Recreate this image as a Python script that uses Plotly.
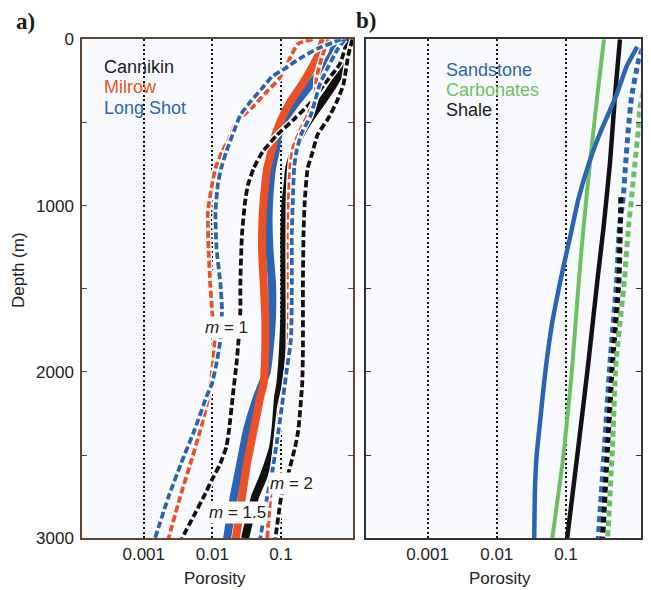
import math
import plotly.graph_objects as go

# ---------------- Panel a: porosity (fraction) vs depth (m) ----------------
# Cannikin (black)
can15_depth = [0, 34, 174, 275, 375, 475, 575, 670, 776, 870, 976, 1177, 1467, 1668, 1868, 2069, 2149, 2349, 2450, 2550, 2650, 2750, 3000]
can15_phi = [1.0, 0.955, 0.77, 0.577, 0.395, 0.267, 0.191, 0.156, 0.132, 0.125, 0.117, 0.112, 0.113, 0.112, 0.107, 0.098, 0.091, 0.083, 0.077, 0.065, 0.053, 0.042, 0.030]
can1_depth = [20, 144, 275, 375, 475, 575, 676, 776, 876, 976, 1177, 1467, 1628, 1808, 1948, 2149, 2349, 2450, 2550, 2650, 2750, 2850, 3000]
can1_phi = [0.9, 0.73, 0.42, 0.28, 0.16, 0.088, 0.054, 0.040, 0.033, 0.030, 0.027, 0.0256, 0.0256, 0.0241, 0.0225, 0.0198, 0.0175, 0.016, 0.0131, 0.0098, 0.0075, 0.0056, 0.0036]
can2_depth = [0, 94, 275, 375, 475, 575, 676, 776, 976, 1177, 1467, 1868, 2069, 2350, 2450, 2610, 2730, 3000]
can2_phi = [1.1, 0.96, 0.81, 0.65, 0.49, 0.34, 0.29, 0.245, 0.222, 0.213, 0.209, 0.209, 0.204, 0.179, 0.161, 0.128, 0.103, 0.083]

# Milrow (red)
mil15_depth = [0, 94, 174, 275, 375, 475, 575, 670, 776, 870, 1067, 1267, 1467, 1668, 1868, 2069, 2149, 2349, 2550, 2750, 3000]
mil15_phi = [0.42, 0.349, 0.28, 0.20, 0.137, 0.103, 0.083, 0.073, 0.063, 0.059, 0.054, 0.053, 0.056, 0.059, 0.059, 0.056, 0.050, 0.040, 0.032, 0.027, 0.022]
mil1_depth = [0, 25, 100, 174, 240, 325, 400, 460, 520, 600, 676, 776, 876, 1036, 1267, 1467, 1628, 1808, 1948, 2149, 2349, 2550, 2750, 3000]
mil1_phi = [0.29, 0.18, 0.14, 0.116, 0.093, 0.059, 0.040, 0.028, 0.021, 0.0174, 0.0138, 0.0111, 0.0099, 0.0086, 0.0088, 0.0093, 0.0099, 0.0108, 0.0102, 0.0088, 0.0067, 0.0048, 0.0034, 0.0023]
mil2_depth = [0, 100, 233, 355, 450, 550, 650, 766, 966, 1267, 1868, 2069, 2208, 2410, 2610, 2750, 3000]
mil2_phi = [0.49, 0.40, 0.33, 0.316, 0.25, 0.19, 0.151, 0.137, 0.13, 0.129, 0.129, 0.116, 0.098, 0.086, 0.077, 0.070, 0.063]

# Long Shot (blue)
lon15_depth = [0, 94, 174, 275, 375, 475, 575, 670, 776, 870, 1067, 1267, 1467, 1668, 1868, 2000, 2149, 2349, 2550, 2750, 3000]
lon15_phi = [0.66, 0.55, 0.413, 0.267, 0.171, 0.116, 0.091, 0.084, 0.074, 0.070, 0.066, 0.068, 0.074, 0.074, 0.068, 0.062, 0.045, 0.032, 0.0256, 0.0205, 0.0164]
lon1_depth = [0, 54, 114, 174, 225, 295, 375, 455, 555, 676, 776, 876, 1036, 1257, 1467, 1628, 1808, 1948, 2069, 2149, 2349, 2550, 2750, 3000]
lon1_phi = [0.76, 0.35, 0.19, 0.116, 0.074, 0.053, 0.036, 0.0256, 0.0205, 0.016, 0.0134, 0.012, 0.0111, 0.0115, 0.0131, 0.0138, 0.0131, 0.0115, 0.0099, 0.0082, 0.0055, 0.0035, 0.0023, 0.00146]
lon2_depth = [0, 64, 165, 264, 365, 465, 565, 666, 766, 966, 1166, 1467, 1800, 2006, 2208, 2410, 2610, 2750, 3000]
lon2_phi = [0.86, 0.66, 0.49, 0.373, 0.316, 0.267, 0.20, 0.17, 0.156, 0.149, 0.144, 0.144, 0.14, 0.12, 0.103, 0.088, 0.074, 0.063, 0.050]

# ---------------- Panel b ----------------
sand_depth = [45, 165, 340, 565, 745, 966, 1166, 1366, 1508, 1708, 2008, 2310, 2500, 2710, 3000]
sand_phi = [1.07, 0.75, 0.53, 0.31, 0.215, 0.15, 0.118, 0.092, 0.078, 0.063, 0.050, 0.042, 0.0377, 0.0356, 0.0348]
carb_depth = [0, 345, 745, 1146, 1488, 2008, 2510, 3000]
carb_phi = [0.354, 0.283, 0.222, 0.178, 0.151, 0.121, 0.0914, 0.0634]
shale_depth = [0, 345, 745, 1146, 1447, 1949, 2450, 3000]
shale_phi = [0.603, 0.51, 0.432, 0.346, 0.285, 0.21, 0.151, 0.104]

sandd_depth = [0, 135, 345, 545, 745, 946, 1146, 1447, 1949, 2450, 3000]
sandd_phi = [1.4, 1.11, 0.889, 0.794, 0.729, 0.673, 0.589, 0.541, 0.432, 0.36, 0.293]
carbd_depth = [200, 415, 545, 745, 946, 1146, 1447, 1949, 2450, 3000]
carbd_phi = [1.5, 1.17, 1.11, 0.993, 0.889, 0.794, 0.70, 0.528, 0.47, 0.401]
shaled_depth = [950, 1447, 1949, 2450, 3000]
shaled_phi = [0.62, 0.583, 0.47, 0.40, 0.339]

x_tickvals = [0.001, 0.01, 0.1]
x_ticktext = ["0.001", "0.01", "0.1"]
y_tickvals = [0, 500, 1000, 1500, 2000, 2500, 3000]
y_ticktext = ["0", "", "1000", "", "2000", "", "3000"]

m_labels = ["<i>m</i> = 1", "<i>m</i> = 2", "<i>m</i> = 1.5"]
m_label_phi = [0.016, 0.141, 0.0231]
m_label_depth = [1735, 2668, 2842]

BLACK = "#111111"
RED = "#ec5027"
BLUE = "#2b64b4"
GREEN = "#6cc062"
FONT = "Liberation Sans, Arial, sans-serif"

fig = go.Figure()


def add(x, y, xa, ya, color, width, dash=None, halo=False):
    if halo:
        fig.add_trace(go.Scatter(x=x, y=y, xaxis=xa, yaxis=ya, mode="lines",
                                 line=dict(color="white", width=width + 2.5, shape="spline", smoothing=0.5),
                                 hoverinfo="skip", showlegend=False))
    fig.add_trace(go.Scatter(x=x, y=y, xaxis=xa, yaxis=ya, mode="lines",
                             line=dict(color=color, width=width, dash=dash, shape="spline", smoothing=0.5),
                             hoverinfo="skip", showlegend=False))


# panel a thick (m = 1.5)
add(lon15_phi, lon15_depth, "x", "y", BLUE, 8)
add(mil15_phi, mil15_depth, "x", "y", RED, 8)
add(can15_phi, can15_depth, "x", "y", BLACK, 8)
# panel a dashed (m = 1 and m = 2)
D = "7px,3px"
add(can1_phi, can1_depth, "x", "y", BLACK, 3.8, D, True)
add(can2_phi, can2_depth, "x", "y", BLACK, 3.8, D, True)
add(mil2_phi, mil2_depth, "x", "y", RED, 3.8, D, True)
add(lon2_phi, lon2_depth, "x", "y", BLUE, 3.8, D, True)
add(mil1_phi, mil1_depth, "x", "y", RED, 3.8, D, True)
add(lon1_phi, lon1_depth, "x", "y", BLUE, 3.8, D, True)

# panel b
DD = "6px,4px"
add(sandd_phi, sandd_depth, "x2", "y2", BLUE, 5, DD)
add(shaled_phi, shaled_depth, "x2", "y2", BLACK, 5, DD)
add(carbd_phi, carbd_depth, "x2", "y2", GREEN, 5, DD)
add(carb_phi, carb_depth, "x2", "y2", GREEN, 4)
add(shale_phi, shale_depth, "x2", "y2", BLACK, 4.5)
add(sand_phi, sand_depth, "x2", "y2", BLUE, 4.5)

W, H = 651, 590
ydom = [1 - 538.3 / H, 1 - 39.3 / H]

xcommon = dict(type="log", tickvals=x_tickvals, ticktext=x_ticktext, ticks="",
               showgrid=True, gridcolor="#111111", griddash="2px,2.6px", gridwidth=1.8,
               showline=True, linewidth=1.5, mirror=True, zeroline=False, automargin=False,
               tickfont=dict(size=17, color="#222222", family=FONT))
ycommon = dict(range=[3000, 0], tickvals=y_tickvals, ticktext=y_ticktext, ticks="inside",
               ticklen=5, tickwidth=1.2, showline=True, linewidth=1.5, mirror="ticks",
               showgrid=False, zeroline=False, automargin=False, ticklabelstandoff=3,
               tickfont=dict(size=17, color="#222222", family=FONT))

fig.update_layout(
    width=W, height=H, margin=dict(l=0, r=0, t=0, b=0, autoexpand=False),
    paper_bgcolor="white", plot_bgcolor="#f9fafd", showlegend=False,
    xaxis=dict(domain=[82 / W, 353 / W], range=[-3.9, 0.05], anchor="y",
               linecolor="#5c4636", **xcommon),
    yaxis=dict(domain=ydom, anchor="x", linecolor="#5c4636", tickcolor="#5c4636", **ycommon),
    xaxis2=dict(domain=[366 / W, 640.7 / W], range=[-3.89, 0.08], anchor="y2",
                linecolor="#333333", **xcommon),
    yaxis2=dict(domain=ydom, anchor="x2", linecolor="#333333", tickcolor="#333333",
                showticklabels=False, **ycommon),
)

ann = []


def txt(x, y, s, color="#1a1a1a", size=18, xanchor="left", family=FONT, **kw):
    ann.append(dict(x=x / W, y=1 - y / H, xref="paper", yref="paper", text=s, showarrow=False,
                    xanchor=xanchor, yanchor="middle", font=dict(size=size, color=color, family=family), **kw))


# legends as text
txt(102, 67, "Cannikin", "#1a1a1a")
txt(102, 87, "Milrow", RED)
txt(102, 108, "Long Shot", BLUE)
txt(444, 70, "Sandstone", BLUE)
txt(444, 90, "Carbonates", GREEN)
txt(444, 110, "Shale", "#1a1a1a")
# panel letters
SERIF = "Liberation Serif, Times New Roman, serif"
txt(14, 22, "<b>a)</b>", "#1a1a1a", 23, family=SERIF)
txt(354, 21, "<b>b)</b>", "#1a1a1a", 23, family=SERIF)
# axis titles
txt(215, 578, "Porosity", "#222222", 17, xanchor="center")
txt(500, 578, "Porosity", "#222222", 17, xanchor="center")
ann.append(dict(x=18 / W, y=1 - 270 / H, xref="paper", yref="paper", text="Depth (m)", textangle=-90,
                showarrow=False, xanchor="center", yanchor="middle",
                font=dict(size=17, color="#222222", family=FONT)))

# m labels placed in data coordinates (white boxes break the curves)
for xv, yv, s in zip(m_label_phi, m_label_depth, m_labels):
    ann.append(dict(x=math.log10(xv), y=yv, xref="x", yref="y", text=s, showarrow=False,
                    xanchor="center", yanchor="middle", bgcolor="#fcfcfd", borderpad=1,
                    font=dict(size=17, color="#222222", family=FONT)))

fig.update_layout(annotations=ann)
fig.write_html("out.html")
